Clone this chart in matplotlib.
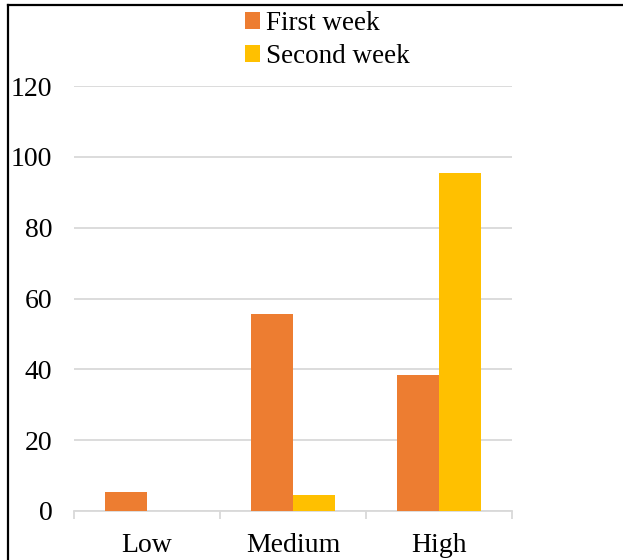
import numpy as np
import matplotlib
matplotlib.use("Agg")
import matplotlib.pyplot as plt
from matplotlib.lines import Line2D

categories = ["Low", "Medium", "High"]
first_week = [5.5, 55.5, 38.5]
second_week = [0, 4.5, 95.5]
series_names = ["First week", "Second week"]
colors = ["#ED7D31", "#FFC000"]

plt.rcParams["font.family"] = ["Liberation Serif", "DejaVu Serif"]

W, H = 623, 560
fig = plt.figure(figsize=(W / 100, H / 100), dpi=100)
ax = fig.add_axes([74 / W, 1 - 511 / H, (512 - 74) / W, (511 - 86) / H])

x = np.arange(len(categories))
w = 0.288
ax.bar(x - w / 2, first_week, w, color=colors[0], label=series_names[0], zorder=3)
ax.bar(x + w / 2, second_week, w, color=colors[1], label=series_names[1], zorder=3)

ax.set_xlim(-0.5, len(categories) - 0.5)
ax.set_ylim(0, 120)
ax.set_yticks(range(0, 121, 20))
ax.yaxis.grid(True, color="#D9D9D9", lw=1.3, zorder=0)
ax.tick_params(axis="y", length=0, pad=15.5, labelsize=20)

ax.set_xticks(x)
ax.set_xticklabels(categories)
ax.set_xticks(np.arange(-0.5, len(categories)), minor=True)
ax.tick_params(axis="x", which="major", length=0, pad=15.5, labelsize=20)
ax.tick_params(axis="x", which="minor", length=6, width=1.3, color="#D9D9D9")

for s in ["top", "right", "left"]:
    ax.spines[s].set_visible(False)
ax.spines["bottom"].set_color("#D9D9D9")
ax.spines["bottom"].set_linewidth(1.3)

fig.legend(loc="upper left", bbox_to_anchor=(245 / W, 1 - 11 / H), frameon=False,
           fontsize=19.5, handlelength=0.55, handleheight=0.55, handletextpad=0.22,
           labelspacing=0.3, borderpad=0, borderaxespad=0)

# outer frame (only top and left edges visible in the crop)
fig.add_artist(Line2D([7.5 / W, 7.5 / W], [0, 1 - 5 / H], color="black", lw=1.6))
fig.add_artist(Line2D([7.5 / W, 1], [1 - 5 / H, 1 - 5 / H], color="black", lw=1.6))

fig.savefig("out.png", dpi=100)
